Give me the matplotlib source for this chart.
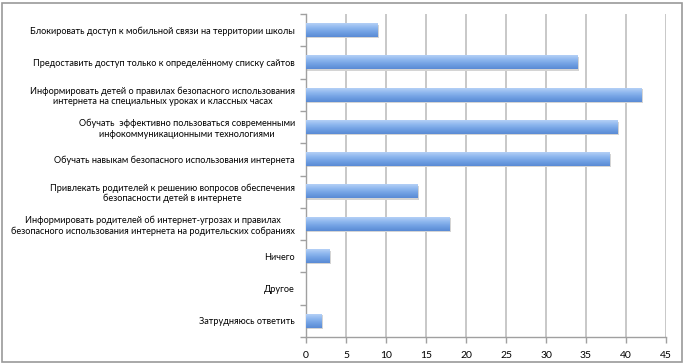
import matplotlib
matplotlib.use("Agg")
import matplotlib.pyplot as plt
import numpy as np
from matplotlib.patches import Rectangle
from matplotlib.colors import LinearSegmentedColormap

categories = [
    "Блокировать доступ к мобильной связи на территории школы",
    "Предоставить доступ только к определённому списку сайтов",
    "Информировать детей о правилах безопасного использования\nинтернета на специальных уроках и классных часах",
    "Обучать  эффективно пользоваться современными\nинфокоммуникационными технологиями",
    "Обучать навыкам безопасного использования интернета",
    "Привлекать родителей к решению вопросов обеспечения\nбезопасности детей в интернете",
    "Информировать родителей об интернет-угрозах и правилах\nбезопасного использования интернета на родительских собраниях",
    "Ничего",
    "Другое",
    "Затрудняюсь ответить",
]
values = [9, 34, 42, 39, 38, 14, 18, 3, 0, 2]
xticks = [0, 5, 10, 15, 20, 25, 30, 35, 40, 45]

plt.rcParams['font.family'] = ['Lato', 'DejaVu Sans']

fig = plt.figure(figsize=(6.85, 3.64), dpi=100)
ax = fig.add_axes([306/685, 1-337/364, 360/685, (337-14)/364])

y = np.arange(len(categories))
h = 0.42
cmap = LinearSegmentedColormap.from_list("barg", ["#b4d0f6", "#8db6ee", "#6f9fe2", "#5a8bd5"])
grad = np.linspace(0, 1, 64).reshape(-1, 1)

# shadow
ax.barh(y + 0.04, [v + 0.15 if v > 0 else 0 for v in values], height=h,
        color="#d4d4d4", zorder=2.5)
bars = ax.barh(y, values, height=h, color="none", zorder=3)
for b in bars:
    x0, y0 = b.get_x(), b.get_y()
    w, hh = b.get_width(), b.get_height()
    if w <= 0:
        continue
    ax.imshow(grad, cmap=cmap, aspect="auto", extent=(x0, x0 + w, y0 + hh, y0),
              zorder=3, interpolation="bilinear")

ax.set_xlim(0, 45)
ax.set_ylim(len(categories) - 0.5, -0.5)
ax.set_xticks(xticks)
ax.set_xticklabels([str(t) for t in xticks], fontsize=7.5)
ax.set_yticks(np.arange(len(categories) + 1) - 0.5)
ax.set_yticklabels([])
ax.set_yticks(y, minor=True)
ax.set_yticklabels(categories, minor=True, fontsize=6.6, ha="right", multialignment="center")
ax.tick_params(axis="y", which="minor", length=0, pad=8)
ax.tick_params(axis="y", which="major", length=4, color="#a0a0a0", width=1)
ax.tick_params(axis="x", length=4, color="#a0a0a0", width=1, pad=6)

ax.grid(axis="x", color="#c4c4c4", linewidth=1.3, zorder=0)
ax.set_axisbelow(True)
for s in ["top", "right"]:
    ax.spines[s].set_visible(False)
for s in ["left", "bottom"]:
    ax.spines[s].set_color("#a0a0a0")
    ax.spines[s].set_linewidth(1)

fig.patches.append(Rectangle((2/685, 2/364), 680/685, 359/364, transform=fig.transFigure,
                             fill=False, edgecolor="#9a9a9a", linewidth=1.2))

fig.savefig("out.png", dpi=100)
